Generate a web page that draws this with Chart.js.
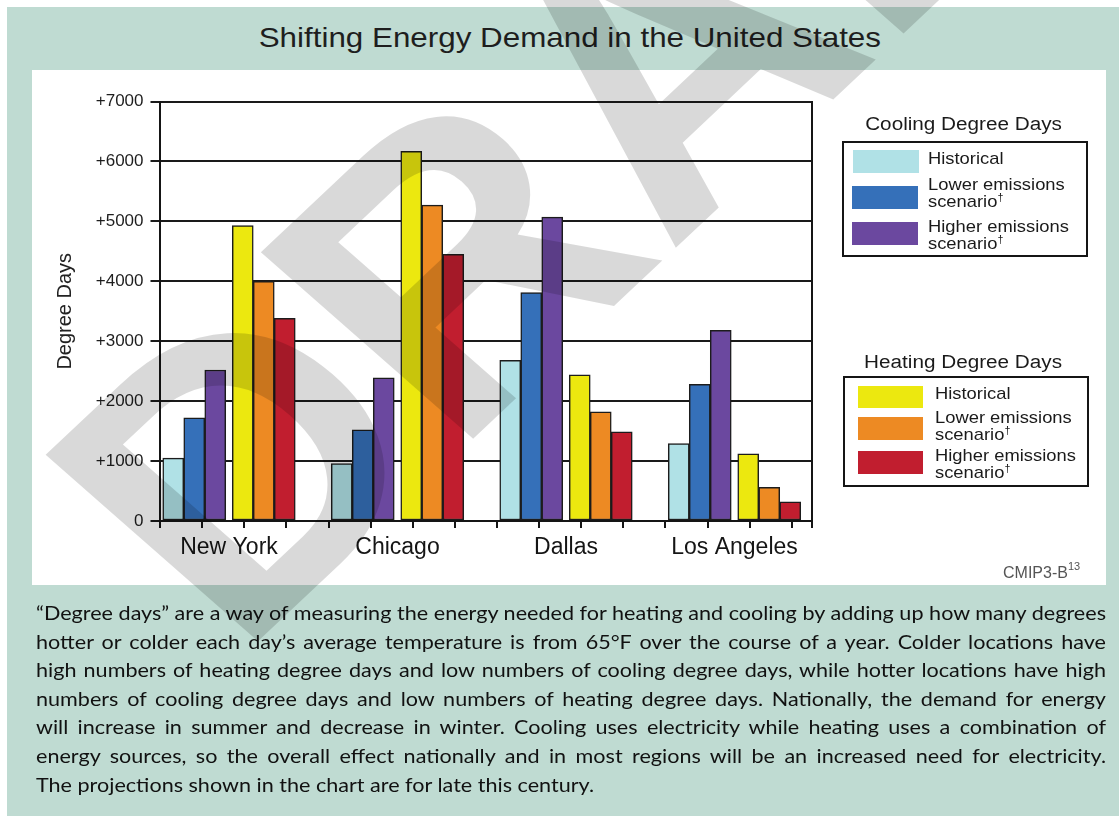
<!DOCTYPE html>
<html>
<head>
<meta charset="utf-8">
<script src="https://cdn.jsdelivr.net/npm/chart.js@4.4.1/dist/chart.umd.min.js"></script>
<style>
  html, body { margin:0; padding:0; background:#fff; }
  body { width:1119px; height:816px; position:relative; overflow:hidden; font-family:"Liberation Sans", Arial, sans-serif; }
  #green { position:absolute; left:7px; top:7px; width:1112px; height:809px; background:#bfdbd2; }
  #white { position:absolute; left:32px; top:70px; width:1074px; height:515px; background:#fff; }
  #chartwrap { position:absolute; left:0; top:0; width:1119px; height:816px; }
  #title { position:absolute; left:0; width:1140px; top:24px; text-align:center; font-size:28px; line-height:28px; color:#1e1e1e; }
  #title span { display:inline-block; transform:scaleX(1.12); }
  .lgtitle { position:absolute; width:260px; text-align:center; font-size:18px; line-height:18px; color:#1a1a1a; }
  .lgtitle span { display:inline-block; transform:scaleX(1.15); }
  .lgbox { position:absolute; border:2px solid #151515; box-sizing:border-box; }
  .sw { position:absolute; width:66px; height:23px; }
  .lt { position:absolute; font-size:17px; line-height:17px; color:#1a1a1a; white-space:nowrap; transform-origin:0 0; transform:scaleX(1.08); }
  .lt sup { font-size:10px; line-height:0; vertical-align:6px; }
  #src { position:absolute; left:1003px; top:565px; font-size:16px; line-height:16px; color:#555; white-space:nowrap; }
  #src sup { font-size:11px; vertical-align:8px; line-height:0; }
  #para { position:absolute; left:36px; top:598px; font-family:Lato, "Noto Sans", sans-serif; font-size:20px; line-height:28.6px; color:#111; }
  #para div { white-space:nowrap; text-align:justify; text-align-last:justify; transform-origin:0 0; }
  #para div.last { text-align-last:left; }
  #wm { position:absolute; left:238px; top:330px; font-family:"Liberation Sans", Arial, sans-serif; font-weight:bold; font-size:390px; line-height:390px; color:rgba(0,0,0,0.15); transform-origin:0 330px; transform:scaleX(1.1) rotate(-46deg); white-space:nowrap; pointer-events:none; }
</style>
</head>
<body>
<div id="green"></div>
<div id="white"></div>
<div id="title"><span>Shifting Energy Demand in the United States</span></div>
<div id="chartwrap"><canvas id="c" width="1119" height="816"></canvas></div>

<div class="lgtitle" style="left:834px; top:115px;"><span>Cooling Degree Days</span></div>
<div class="lgbox" style="left:842px; top:141px; width:246px; height:116px;"></div>
<div class="sw" style="left:853px; top:150px; background:#b0e1e6;"></div>
<div class="sw" style="left:852px; top:186px; background:#3570b9;"></div>
<div class="sw" style="left:852px; top:222px; background:#6b489f;"></div>
<div class="lt" style="left:928px; top:150px;">Historical</div>
<div class="lt" style="left:928px; top:176px;">Lower emissions<br>scenario<sup>†</sup></div>
<div class="lt" style="left:928px; top:218px;">Higher emissions<br>scenario<sup>†</sup></div>

<div class="lgtitle" style="left:833px; top:353px;"><span>Heating Degree Days</span></div>
<div class="lgbox" style="left:843px; top:376px; width:246px; height:111px;"></div>
<div class="sw" style="left:858px; top:386px; width:65px; height:22px; background:#ece80f;"></div>
<div class="sw" style="left:858px; top:417px; width:65px; background:#ed8a23;"></div>
<div class="sw" style="left:858px; top:451px; width:65px; background:#c11e2f;"></div>
<div class="lt" style="left:935px; top:385px;">Historical</div>
<div class="lt" style="left:935px; top:409px;">Lower emissions<br>scenario<sup>†</sup></div>
<div class="lt" style="left:935px; top:447px;">Higher emissions<br>scenario<sup>†</sup></div>

<div id="src">CMIP3-B<sup>13</sup></div>

<div id="para">
<div><span>“Degree days” are a way of measuring the energy needed for heating and cooling by adding up how many degrees</span></div>
<div><span>hotter or colder each day’s average temperature is from 65°F over the course of a year. Colder locations have</span></div>
<div><span>high numbers of heating degree days and low numbers of cooling degree days, while hotter locations have high</span></div>
<div><span>numbers of cooling degree days and low numbers of heating degree days. Nationally, the demand for energy</span></div>
<div><span>will increase in summer and decrease in winter. Cooling uses electricity while heating uses a combination of</span></div>
<div><span>energy sources, so the overall effect nationally and in most regions will be an increased need for electricity.</span></div>
<div class="last"><span>The projections shown in the chart are for late this century.</span></div>
</div>

<div id="wm">DRAFT</div>

<script>
// ---- data ----
const cities = ['New York', 'Chicago', 'Dallas', 'Los Angeles'];
const cityPos = [0, 1, 2, 3];
const yTickValues = [0, 1000, 2000, 3000, 4000, 5000, 6000, 7000];

const coolingHistorical = [1050, 960, 2680, 1290];
const coolingLower      = [1720, 1520, 3810, 2280];
const coolingHigher     = [2520, 2390, 5070, 3180];

const heatingHistorical = [4930, 6170, 2440, 1120];
const heatingLower      = [4000, 5270, 1820, 560];
const heatingHigher     = [3380, 4450, 1490, 320];

// ---- paragraph: fit justified lines to the panel width ----
(function () {
  const PARA_W = 1070;
  const rows = Array.from(document.querySelectorAll('#para div'));
  let maxW = 0;
  rows.forEach(r => { maxW = Math.max(maxW, r.firstElementChild.offsetWidth); });
  const s = Math.min(1.15, PARA_W / (maxW + 2));
  rows.forEach(r => {
    r.style.width = (PARA_W / s) + 'px';
    r.style.transform = 'scaleX(' + s + ')';
  });
})();

// ---- layout / style ----
const FONT = '"Liberation Sans", Arial, sans-serif';
const X_MIN = -0.4125, X_MAX = 3.46;
const GROUP_GAP = 0.0193;   // small gap between the cooling and heating triplets
const MINOR_STEP = 0.25;

function pts(values, shift) {
  return values.map((v, i) => ({ x: cityPos[i] + shift, y: v }));
}
function ds(label, values, shift, color) {
  return {
    label, data: pts(values, shift),
    backgroundColor: color, borderColor: '#1c1c1c', borderWidth: 1.5,
    borderSkipped: false, barThickness: 21
  };
}

new Chart(document.getElementById('c'), {
  type: 'bar',
  data: {
    datasets: [
      ds('Cooling – Historical', coolingHistorical, -GROUP_GAP, '#b0e1e6'),
      ds('Cooling – Lower emissions scenario', coolingLower, -GROUP_GAP, '#3570b9'),
      ds('Cooling – Higher emissions scenario', coolingHigher, -GROUP_GAP, '#6b489f'),
      ds('Heating – Historical', heatingHistorical, GROUP_GAP, '#ece80f'),
      ds('Heating – Lower emissions scenario', heatingLower, GROUP_GAP, '#ed8a23'),
      ds('Heating – Higher emissions scenario', heatingHigher, GROUP_GAP, '#c11e2f')
    ]
  },
  options: {
    responsive: false,
    animation: false,
    layout: { padding: { left: 49, right: 307, top: 101.5, bottom: 235 } },
    plugins: { legend: { display: false }, title: { display: false }, tooltip: { enabled: false } },
    scales: {
      x: {
        type: 'linear', position: 'bottom', min: X_MIN, max: X_MAX, offset: false,
        afterBuildTicks: s => {
          const t = cityPos.map(v => ({ value: v, isCity: true }));
          for (let v = X_MIN + 0.003; v < X_MAX - 0.05; v += MINOR_STEP) t.push({ value: v, isCity: false });
          t.push({ value: X_MAX, isCity: false });
          t.sort((a, b) => a.value - b.value);
          s.ticks = t;
        },
        ticks: {
          autoSkip: false, maxRotation: 0, padding: 6, color: '#151515',
          font: { family: FONT, size: 23 },
          callback: function (v, i, ticks) { return ticks[i].isCity ? cities[cityPos.indexOf(Math.round(v))] : ''; }
        },
        grid: {
          offset: false, drawOnChartArea: false, tickLength: 7, lineWidth: 2, color: '#151515',
          tickColor: ctx => (ctx.tick && ctx.tick.isCity) ? 'rgba(0,0,0,0)' : '#151515'
        },
        border: { display: true, color: '#151515', width: 2 },
        afterFit: s => { s.height = 60; }
      },
      y: {
        min: 0, max: 7000,
        afterBuildTicks: s => { s.ticks = yTickValues.map(v => ({ value: v })); },
        ticks: {
          padding: 7, color: '#1e1e1e', font: { family: FONT, size: 17 },
          callback: v => v === 0 ? '0' : '+' + v
        },
        grid: { color: '#1a1a1a', lineWidth: 2, tickLength: 9 },
        border: { display: true, color: '#151515', width: 2 },
        title: { display: true, text: 'Degree Days', color: '#222', font: { family: FONT, size: 20 }, padding: { top: 4, bottom: 4 } },
        afterFit: s => { s.width = 110.5; }
      },
      yR: {
        position: 'right', min: 0, max: 7000,
        ticks: { display: false },
        grid: { display: false, drawTicks: false },
        border: { display: true, color: '#151515', width: 2 },
        afterFit: s => { s.width = 0; }
      }
    }
  }
});
</script>
</body>
</html>
